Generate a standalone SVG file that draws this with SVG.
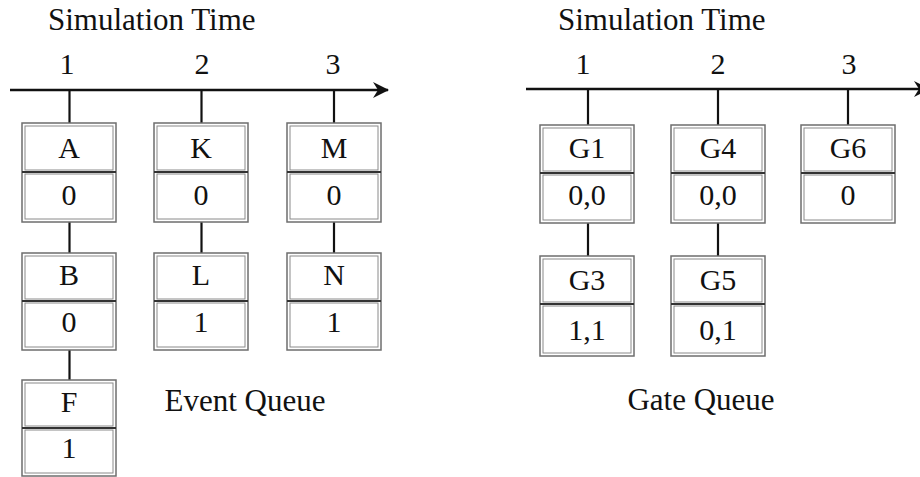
<svg xmlns="http://www.w3.org/2000/svg" width="920" height="477" viewBox="0 0 920 477" font-family="Liberation Serif">
<defs>
<marker id="arr" viewBox="0 0 16 16" refX="15" refY="8" markerWidth="16" markerHeight="16" markerUnits="userSpaceOnUse" orient="auto">
<path d="M0,0 L16,8 L0,16 L5,8 Z" fill="#111"/>
</marker>
</defs>
<style>
.t{font-family:'Liberation Serif',serif;font-size:31px;fill:#111}
.n{font-family:'Liberation Serif',serif;font-size:30px;text-anchor:middle;fill:#111}
.frame{fill:#fff;stroke:#6e6e6e;stroke-width:1.5}
.inner{fill:none;stroke:#8a8a8a;stroke-width:1}
.div{stroke:#333;stroke-width:2}
.ln{stroke:#111;stroke-width:2.2;fill:none}
.axis{stroke:#111;stroke-width:2.6;fill:none}
</style>
<rect width="920" height="477" fill="#fff"/>

<g id="labels" font-family="Liberation Serif">
<text class="t" x="48" y="30">Simulation Time</text>
<text class="n" x="67" y="74">1</text>
<text class="n" x="202" y="74">2</text>
<text class="n" x="333" y="74">3</text>
<text class="t" x="558" y="30">Simulation Time</text>
<text class="n" x="583" y="74">1</text>
<text class="n" x="718" y="74">2</text>
<text class="n" x="849" y="74">3</text>
<text class="t" x="245" y="411" text-anchor="middle">Event Queue</text>
<text class="t" x="701" y="410" text-anchor="middle">Gate Queue</text>
</g>

<g id="connectors">
<line class="axis" x1="10" y1="90" x2="388" y2="90" marker-end="url(#arr)"/>
<line class="axis" x1="526" y1="89" x2="929" y2="89" marker-end="url(#arr)"/>
<line class="ln" x1="69.5" y1="90" x2="69.5" y2="123"/>
<line class="ln" x1="201.5" y1="90" x2="201.5" y2="123"/>
<line class="ln" x1="334" y1="90" x2="334" y2="123"/>
<line class="ln" x1="69.5" y1="222" x2="69.5" y2="253"/>
<line class="ln" x1="201.5" y1="222" x2="201.5" y2="253"/>
<line class="ln" x1="334" y1="222" x2="334" y2="253"/>
<line class="ln" x1="69.5" y1="350" x2="69.5" y2="380"/>
<line class="ln" x1="588" y1="89" x2="588" y2="125"/>
<line class="ln" x1="718" y1="89" x2="718" y2="125"/>
<line class="ln" x1="848" y1="89" x2="848" y2="125"/>
<line class="ln" x1="588" y1="223" x2="588" y2="256"/>
<line class="ln" x1="718" y1="223" x2="718" y2="256"/>
</g>

<g font-family="Liberation Serif">
<g id="node-A">
<rect class="frame" x="22" y="123" width="94" height="99"/>
<rect class="inner" x="25" y="126" width="88" height="44"/>
<rect class="inner" x="25" y="174" width="88" height="45"/>
<line class="div" x1="22" y1="172" x2="116" y2="172"/>
<text class="n" x="69" y="158">A</text>
<text class="n" x="69" y="205">0</text>
</g>
<g id="node-K">
<rect class="frame" x="154" y="123" width="94" height="99"/>
<rect class="inner" x="157" y="126" width="88" height="44"/>
<rect class="inner" x="157" y="174" width="88" height="45"/>
<line class="div" x1="154" y1="172" x2="248" y2="172"/>
<text class="n" x="201" y="158">K</text>
<text class="n" x="201" y="205">0</text>
</g>
<g id="node-M">
<rect class="frame" x="287" y="123" width="94" height="99"/>
<rect class="inner" x="290" y="126" width="88" height="44"/>
<rect class="inner" x="290" y="174" width="88" height="45"/>
<line class="div" x1="287" y1="172" x2="381" y2="172"/>
<text class="n" x="334" y="158">M</text>
<text class="n" x="334" y="205">0</text>
</g>
<g id="node-B">
<rect class="frame" x="22" y="253" width="94" height="97"/>
<rect class="inner" x="25" y="256" width="88" height="43"/>
<rect class="inner" x="25" y="303" width="88" height="44"/>
<line class="div" x1="22" y1="301" x2="116" y2="301"/>
<text class="n" x="69" y="285">B</text>
<text class="n" x="69" y="332">0</text>
</g>
<g id="node-L">
<rect class="frame" x="154" y="253" width="94" height="97"/>
<rect class="inner" x="157" y="256" width="88" height="43"/>
<rect class="inner" x="157" y="303" width="88" height="44"/>
<line class="div" x1="154" y1="301" x2="248" y2="301"/>
<text class="n" x="201" y="285">L</text>
<text class="n" x="201" y="332">1</text>
</g>
<g id="node-N">
<rect class="frame" x="287" y="253" width="94" height="97"/>
<rect class="inner" x="290" y="256" width="88" height="43"/>
<rect class="inner" x="290" y="303" width="88" height="44"/>
<line class="div" x1="287" y1="301" x2="381" y2="301"/>
<text class="n" x="334" y="285">N</text>
<text class="n" x="334" y="332">1</text>
</g>
<g id="node-F">
<rect class="frame" x="22" y="380" width="94" height="96"/>
<rect class="inner" x="25" y="383" width="88" height="43"/>
<rect class="inner" x="25" y="430" width="88" height="43"/>
<line class="div" x1="22" y1="428" x2="116" y2="428"/>
<text class="n" x="69" y="412">F</text>
<text class="n" x="69" y="458">1</text>
</g>

<g id="node-G1">
<rect class="frame" x="540" y="125" width="94" height="98"/>
<rect class="inner" x="543" y="128" width="88" height="43"/>
<rect class="inner" x="543" y="175" width="88" height="45"/>
<line class="div" x1="540" y1="173" x2="634" y2="173"/>
<text class="n" x="587" y="158">G1</text>
<text class="n" x="587" y="205">0,0</text>
</g>
<g id="node-G4">
<rect class="frame" x="671" y="125" width="94" height="98"/>
<rect class="inner" x="674" y="128" width="88" height="43"/>
<rect class="inner" x="674" y="175" width="88" height="45"/>
<line class="div" x1="671" y1="173" x2="765" y2="173"/>
<text class="n" x="718" y="158">G4</text>
<text class="n" x="718" y="205">0,0</text>
</g>
<g id="node-G6">
<rect class="frame" x="801" y="125" width="94" height="98"/>
<rect class="inner" x="804" y="128" width="88" height="43"/>
<rect class="inner" x="804" y="175" width="88" height="45"/>
<line class="div" x1="801" y1="173" x2="895" y2="173"/>
<text class="n" x="848" y="158">G6</text>
<text class="n" x="848" y="205">0</text>
</g>
<g id="node-G3">
<rect class="frame" x="540" y="256" width="94" height="100"/>
<rect class="inner" x="543" y="259" width="88" height="43"/>
<rect class="inner" x="543" y="306" width="88" height="47"/>
<line class="div" x1="540" y1="304" x2="634" y2="304"/>
<text class="n" x="587" y="290">G3</text>
<text class="n" x="587" y="340">1,1</text>
</g>
<g id="node-G5">
<rect class="frame" x="671" y="256" width="94" height="100"/>
<rect class="inner" x="674" y="259" width="88" height="43"/>
<rect class="inner" x="674" y="306" width="88" height="47"/>
<line class="div" x1="671" y1="304" x2="765" y2="304"/>
<text class="n" x="718" y="290">G5</text>
<text class="n" x="718" y="340">0,1</text>
</g>
</g>
</svg>
